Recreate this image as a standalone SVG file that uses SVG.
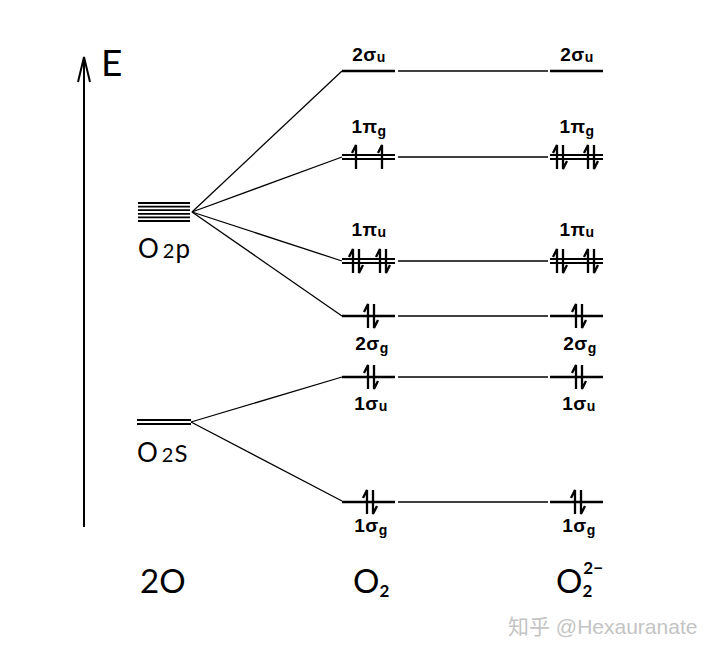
<svg xmlns="http://www.w3.org/2000/svg" xmlns:xlink="http://www.w3.org/1999/xlink" width="720" height="654" viewBox="0 0 720 654">
<style>
  .lvl{stroke:#000;stroke-width:2.6;fill:none}
  .dbl{stroke:#000;stroke-width:1.8;fill:none}
  .con{stroke:#000;stroke-width:1.3;fill:none}
  .el{stroke:#000;stroke-width:2.3;fill:none;stroke-linejoin:miter}
  .lab{font-family:"Liberation Sans",Arial,sans-serif;font-size:19px;font-weight:bold;fill:#000;text-anchor:middle;letter-spacing:0.5px}
  .sub{font-size:14px}
  .big{font-family:Lato,"Open Sans",sans-serif;font-weight:normal;fill:#000}
  .wm{font-family:"Liberation Sans","Noto Sans CJK SC",sans-serif;font-size:21px;fill:#c4c4c4}
</style>
<defs>
  <path id="eu" class="el" d="M0 12 V-12 L-4 -4"/>
  <path id="ed" class="el" d="M0 -12 V12 L4 4"/>
  <g id="pair"><use xlink:href="#eu" href="#eu"/><use xlink:href="#ed" href="#ed" x="6"/></g>
</defs>
<rect width="720" height="654" fill="#fff"/>

<g id="axis">
  <line x1="84" y1="527" x2="84" y2="58" stroke="#000" stroke-width="2"/>
  <path d="M78 82 L84 57 L90 82" stroke="#000" stroke-width="2" fill="none"/>
  <text x="101" y="76" font-family="Lato,'Liberation Sans',sans-serif" font-size="37" fill="#000">E</text>
</g>

<g id="connectors">
  <line class="con" x1="192" y1="212" x2="342" y2="71"/>
  <line class="con" x1="192" y1="212" x2="342" y2="157"/>
  <line class="con" x1="192" y1="212" x2="342" y2="261"/>
  <line class="con" x1="192" y1="212" x2="342" y2="316"/>
  <line class="con" x1="191" y1="422" x2="342" y2="377"/>
  <line class="con" x1="191" y1="422" x2="342" y2="501"/>
  <line class="con" x1="398" y1="71" x2="548" y2="71"/>
  <line class="con" x1="398" y1="157" x2="548" y2="157"/>
  <line class="con" x1="398" y1="261" x2="548" y2="261"/>
  <line class="con" x1="398" y1="316" x2="548" y2="316"/>
  <line class="con" x1="398" y1="377" x2="548" y2="377"/>
  <line class="con" x1="398" y1="502" x2="548" y2="502"/>
</g>

<g id="O2p">
  <path class="dbl" d="M138 203H190M138 206.6H190M138 210.2H190M138 213.8H190M138 217.4H190M138 221H190"/>
  <text class="big" x="138" y="258" font-size="26">O<tspan font-size="20" dx="4">2</tspan><tspan font-size="26" dx="1">p</tspan></text>
</g>

<g id="O2s">
  <path class="dbl" d="M137 420H191M137 424H191"/>
  <text class="big" x="137" y="462" font-size="26">O<tspan font-size="20" dx="4">2</tspan><tspan font-size="24" dx="1">S</tspan></text>
</g>

<!-- O2 column -->
<g id="O2-2su">
  <line class="lvl" x1="342" y1="71" x2="395" y2="71"/>
  <text class="lab" x="369" y="61">2σ<tspan class="sub" dy="1">u</tspan></text>
</g>
<g id="O2-1pg">
  <path class="dbl" d="M342 155H395M342 159H395"/>
  <use xlink:href="#eu" href="#eu" x="356" y="157"/>
  <use xlink:href="#eu" href="#eu" x="382" y="157"/>
  <text class="lab" x="369" y="133">1π<tspan class="sub" dy="3">g</tspan></text>
</g>
<g id="O2-1pu">
  <path class="dbl" d="M342 259H395M342 263H395"/>
  <use xlink:href="#pair" href="#pair" x="353" y="261"/>
  <use xlink:href="#pair" href="#pair" x="380" y="261"/>
  <text class="lab" x="369" y="236">1π<tspan class="sub" dy="1">u</tspan></text>
</g>
<g id="O2-2sg">
  <line class="lvl" x1="342" y1="316" x2="395" y2="316"/>
  <use xlink:href="#pair" href="#pair" x="368" y="316"/>
  <text class="lab" x="372" y="350">2σ<tspan class="sub" dy="3">g</tspan></text>
</g>
<g id="O2-1su">
  <line class="lvl" x1="342" y1="377" x2="395" y2="377"/>
  <use xlink:href="#pair" href="#pair" x="368" y="377"/>
  <text class="lab" x="371" y="410">1σ<tspan class="sub" dy="1">u</tspan></text>
</g>
<g id="O2-1sg">
  <line class="lvl" x1="342" y1="502" x2="395" y2="502"/>
  <use xlink:href="#pair" href="#pair" x="367" y="502"/>
  <text class="lab" x="371" y="532">1σ<tspan class="sub" dy="3">g</tspan></text>
</g>

<!-- O2 2- column -->
<g id="P-2su">
  <line class="lvl" x1="550" y1="71" x2="603" y2="71"/>
  <text class="lab" x="577" y="61">2σ<tspan class="sub" dy="1">u</tspan></text>
</g>
<g id="P-1pg">
  <path class="dbl" d="M550 155H603M550 159H603"/>
  <use xlink:href="#pair" href="#pair" x="557" y="157"/>
  <use xlink:href="#pair" href="#pair" x="588" y="157"/>
  <text class="lab" x="577" y="133">1π<tspan class="sub" dy="3">g</tspan></text>
</g>
<g id="P-1pu">
  <path class="dbl" d="M550 259H603M550 263H603"/>
  <use xlink:href="#pair" href="#pair" x="557" y="261"/>
  <use xlink:href="#pair" href="#pair" x="588" y="261"/>
  <text class="lab" x="577" y="236">1π<tspan class="sub" dy="1">u</tspan></text>
</g>
<g id="P-2sg">
  <line class="lvl" x1="550" y1="316" x2="603" y2="316"/>
  <use xlink:href="#pair" href="#pair" x="576" y="316"/>
  <text class="lab" x="580" y="350">2σ<tspan class="sub" dy="3">g</tspan></text>
</g>
<g id="P-1su">
  <line class="lvl" x1="550" y1="377" x2="603" y2="377"/>
  <use xlink:href="#pair" href="#pair" x="576" y="377"/>
  <text class="lab" x="579" y="410">1σ<tspan class="sub" dy="1">u</tspan></text>
</g>
<g id="P-1sg">
  <line class="lvl" x1="550" y1="502" x2="603" y2="502"/>
  <use xlink:href="#pair" href="#pair" x="575" y="502"/>
  <text class="lab" x="579" y="532">1σ<tspan class="sub" dy="3">g</tspan></text>
</g>

<g id="bottom-labels">
  <text class="big" x="140" y="593" font-size="33">2O</text>
  <text class="big" x="353" y="593" font-size="33">O<tspan font-size="17" font-weight="bold" dy="4">2</tspan></text>
  <text class="big" x="556" y="593" font-size="33">O<tspan font-size="17" font-weight="bold" dy="4">2</tspan><tspan font-size="17" font-weight="bold" dx="-9" dy="-23">2−</tspan></text>
</g>

<text class="wm" x="508" y="634">知乎 @Hexauranate</text>
</svg>
